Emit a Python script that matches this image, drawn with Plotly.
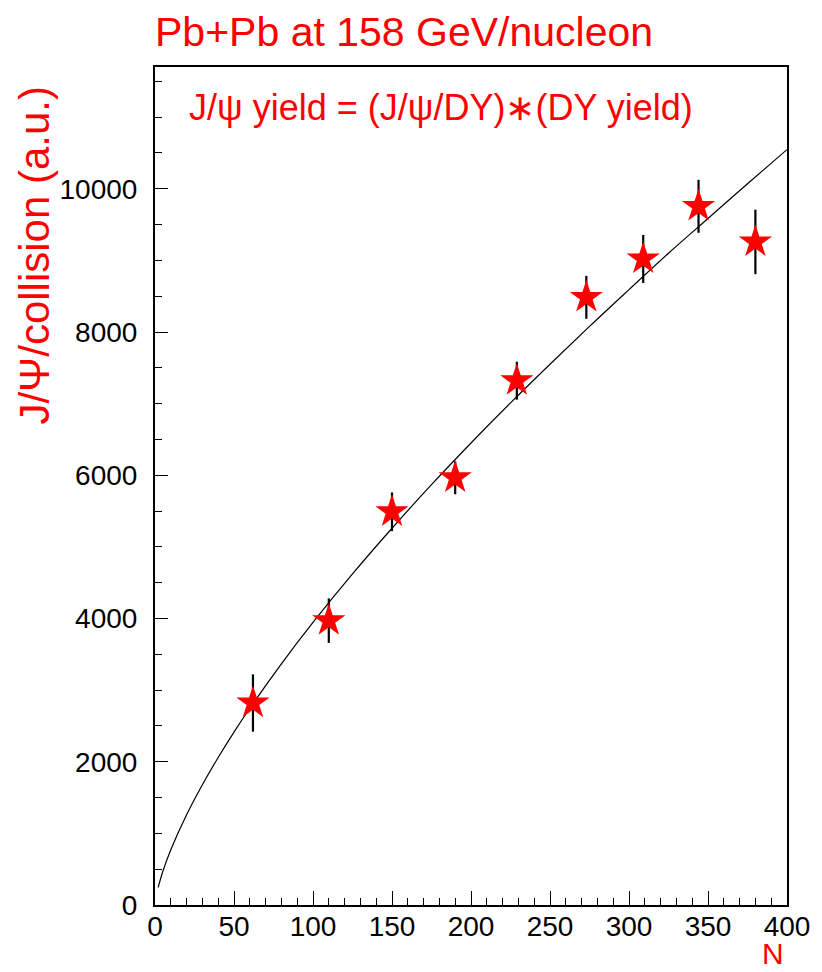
import plotly.graph_objects as go

# Data points
n_part = [62, 110, 150, 190, 229, 273, 309, 344, 380]
jpsi = [2820, 3970, 5490, 5965, 7320, 8484, 9020, 9755, 9258]
jpsi_err = [400, 310, 270, 230, 265, 300, 335, 370, 450]

# Fit curve samples
curve_x = [2, 5, 10, 20, 30, 40, 50, 60, 80, 100, 125, 150, 175, 200, 225, 250, 275, 300, 325, 350, 375, 400]
curve_y = [246, 472, 771, 1261, 1680, 2060, 2414, 2747, 3368, 3946, 4622, 5260, 5868, 6450, 7010, 7550, 8078, 8592, 9100, 9585, 10070, 10547]

FONT = "Liberation Sans, Arial, Helvetica, sans-serif"
RED = "#ff0000"

fig = go.Figure()
fig.add_trace(go.Scatter(x=curve_x, y=curve_y, mode="lines", line=dict(color="black", width=1.2, shape="spline"),
                         showlegend=False, hoverinfo="skip"))
fig.add_trace(go.Scatter(x=n_part, y=jpsi, mode="markers",
                         marker=dict(symbol="star", size=25, color=RED, line=dict(width=0)),
                         error_y=dict(type="data", array=jpsi_err, color="black", thickness=2.2, width=0),
                         showlegend=False))

axis_common = dict(showgrid=False, zeroline=False, showline=True, linecolor="black", linewidth=2,
                   mirror=True, ticks="inside", tickcolor="black", tickwidth=1, tickformat="d",
                   tickfont=dict(family=FONT, size=28, color="black"))

fig.update_xaxes(range=[0, 400], tick0=0, dtick=50, ticklen=14, ticklabelstandoff=-5,
                 minor=dict(dtick=10, ticklen=7, ticks="inside", tickcolor="black", tickwidth=1),
                 **axis_common)
fig.update_yaxes(range=[0, 11700], tick0=0, dtick=2000, ticklen=13, ticklabelstandoff=10,
                 minor=dict(dtick=500, ticklen=7, ticks="inside", tickcolor="black", tickwidth=1),
                 **axis_common)

fig.update_layout(
    width=822, height=972,
    margin=dict(l=155, r=26, t=67, b=67),
    plot_bgcolor="white", paper_bgcolor="white",
    annotations=[
        dict(text="Pb+Pb at 158 GeV/nucleon", xref="paper", yref="paper", x=-0.003, y=1.0, yshift=35,
             xanchor="left", yanchor="middle", showarrow=False,
             font=dict(family=FONT, size=41, color=RED)),
        dict(text="J/ψ yield = (J/ψ/DY)∗(DY yield)", xref="paper", yref="paper", x=0.05, y=1.0, yshift=-40,
             xanchor="left", yanchor="middle", showarrow=False,
             font=dict(family=FONT, size=36, color=RED)),
        dict(text="J/Ψ/collision (a.u.)", xref="paper", yref="paper", x=0, xshift=-120, y=0.775,
             xanchor="center", yanchor="middle", textangle=-90, showarrow=False,
             font=dict(family=FONT, size=42, color=RED)),
        dict(text="N", xref="paper", yref="paper", x=1.0, xshift=-14, y=0, yshift=-67,
             xanchor="center", yanchor="bottom", showarrow=False,
             font=dict(family=FONT, size=30, color=RED)),
    ],
)

fig.write_html("out.html")
